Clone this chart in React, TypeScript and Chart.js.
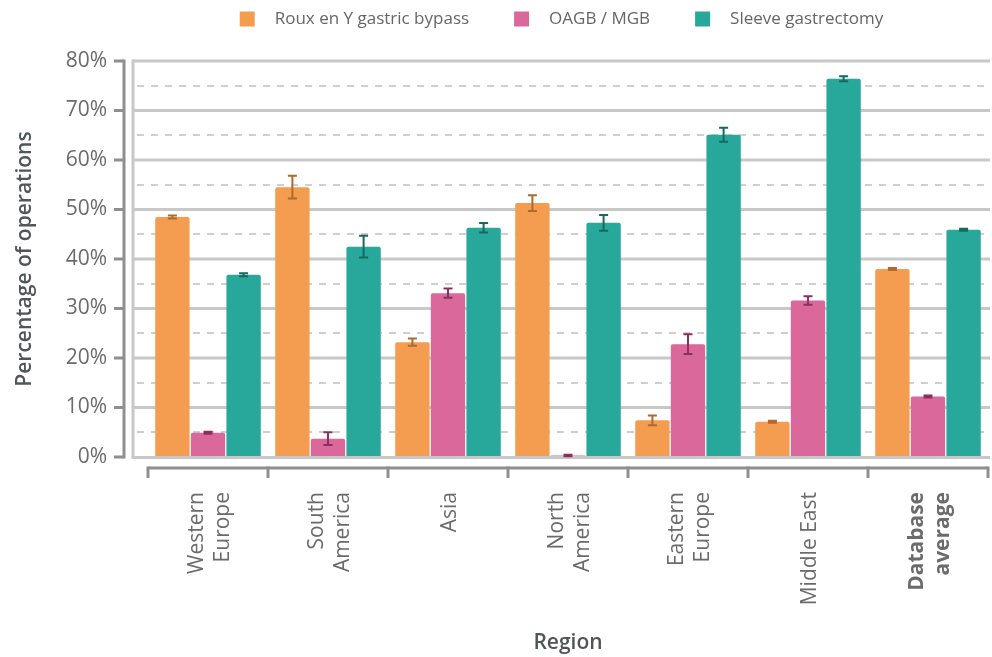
import React, { useEffect, useRef } from "react";
import { Chart, registerables } from "chart.js";

Chart.register(...registerables);

const FONT = "'Open Sans', 'Noto Sans', sans-serif";

// Regions (multi-line tick labels)
const regions: string[][] = [
  ["Western", "Europe"],
  ["South", "America"],
  ["Asia"],
  ["North", "America"],
  ["Eastern", "Europe"],
  ["Middle East"],
  ["Database", "average"],
];
const boldRegion = 6;

const seriesNames = ["Roux en Y gastric bypass", "OAGB / MGB", "Sleeve gastrectomy"];

// Share of operations (%) per region
const rouxEnY = [48.5, 54.5, 23.2, 51.3, 7.4, 7.1, 38.0];
const oagbMgb = [4.9, 3.7, 33.1, 0.3, 22.8, 31.6, 12.2];
const sleeve = [36.8, 42.5, 46.3, 47.3, 65.1, 76.4, 45.9];

// Error (± half-range) per bar
const rouxEnYErr = [0.3, 2.3, 0.75, 1.6, 1.0, 0.2, 0.2];
const oagbMgbErr = [0.2, 1.3, 0.95, 0.15, 2.0, 0.85, 0.2];
const sleeveErr = [0.3, 2.2, 0.95, 1.6, 1.4, 0.5, 0.2];

const yTicks = [0, 10, 20, 30, 40, 50, 60, 70, 80];

const barColors = ["#F49D50", "#DB689B", "#27A89B"];
const errColors = ["#B06A2C", "#8C2F5D", "#17685E"];
const errors = [rouxEnYErr, oagbMgbErr, sleeveErr];

const GRID = "#c8c8c8";
const AXIS = "#8f8f8f";
const TICK_TEXT = "#6b6b6b";

const backgroundPlugin = {
  id: "frameAndGrid",
  beforeDatasetsDraw(chart: any) {
    const { ctx, chartArea, scales } = chart;
    const ys = scales.y;
    const frameLeft = chartArea.left - 15;
    const right = chartArea.right + 2;
    ctx.save();
    // dashed half-step lines
    ctx.strokeStyle = "#cfcfcf";
    ctx.lineWidth = 2;
    ctx.setLineDash([7, 7]);
    for (let v = 5; v < 80; v += 10) {
      const py = Math.round(ys.getPixelForValue(v));
      ctx.beginPath();
      ctx.moveTo(frameLeft + 4, py);
      ctx.lineTo(right, py);
      ctx.stroke();
    }
    ctx.setLineDash([]);
    // solid lines
    ctx.strokeStyle = GRID;
    ctx.lineWidth = 3;
    for (let v = 10; v <= 80; v += 10) {
      const py = ys.getPixelForValue(v);
      ctx.beginPath();
      ctx.moveTo(frameLeft, py);
      ctx.lineTo(right, py);
      ctx.stroke();
    }
    // frame left border
    ctx.beginPath();
    ctx.moveTo(frameLeft, ys.getPixelForValue(80) - 1.5);
    ctx.lineTo(frameLeft, ys.getPixelForValue(0));
    ctx.stroke();

    // separate y axis line with ticks
    const axisX = chartArea.left - 24;
    ctx.strokeStyle = AXIS;
    ctx.lineWidth = 3;
    ctx.beginPath();
    ctx.moveTo(axisX, ys.getPixelForValue(80) - 1.5);
    ctx.lineTo(axisX, ys.getPixelForValue(0) + 1.5);
    ctx.stroke();
    yTicks.forEach((v) => {
      const py = ys.getPixelForValue(v);
      ctx.beginPath();
      ctx.moveTo(axisX - 10, py);
      ctx.lineTo(axisX, py);
      ctx.stroke();
    });

    // separate x axis line with boundary ticks
    const xs = scales.x;
    const step = xs.getPixelForValue(1) - xs.getPixelForValue(0);
    const axisY = chartArea.bottom + 11;
    ctx.beginPath();
    ctx.moveTo(xs.getPixelForValue(0) - step / 2, axisY);
    ctx.lineTo(xs.getPixelForValue(regions.length - 1) + step / 2, axisY);
    ctx.stroke();
    for (let i = 0; i <= regions.length; i++) {
      const px = xs.getPixelForValue(i) - step / 2;
      ctx.beginPath();
      ctx.moveTo(px, axisY - 1.5);
      ctx.lineTo(px, axisY + 10);
      ctx.stroke();
    }
    ctx.restore();
  },
  afterDatasetsDraw(chart: any) {
    const { ctx, chartArea, scales } = chart;
    const ys = scales.y;
    ctx.save();
    // baseline of the frame
    ctx.strokeStyle = GRID;
    ctx.lineWidth = 3;
    ctx.beginPath();
    ctx.moveTo(chartArea.left - 16.5, ys.getPixelForValue(0) + 0.5);
    ctx.lineTo(chartArea.right + 2, ys.getPixelForValue(0) + 0.5);
    ctx.stroke();
    ctx.restore();
  },
};

// Vertical region labels, each block of lines centred on its category
const regionLabelPlugin = {
  id: "regionLabels",
  afterDraw(chart: any) {
    const { ctx, chartArea, scales } = chart;
    const xs = scales.x;
    const lineHeight = 26;
    const top = chartArea.bottom + 35;
    ctx.save();
    ctx.fillStyle = TICK_TEXT;
    ctx.textAlign = "right";
    ctx.textBaseline = "middle";
    regions.forEach((lines, i) => {
      const cx = xs.getPixelForValue(i) + 2;
      ctx.font = `${i === boldRegion ? "bold " : ""}21px ${FONT}`;
      lines.forEach((line, j) => {
        const lx = cx + (j - (lines.length - 1) / 2) * lineHeight;
        ctx.save();
        ctx.translate(lx, top);
        ctx.rotate(-Math.PI / 2);
        ctx.fillText(line, 0, 0);
        ctx.restore();
      });
    });
    ctx.restore();
  },
};

const errorBarPlugin = {
  id: "errorBars",
  afterDatasetsDraw(chart: any) {
    const { ctx, scales } = chart;
    const ys = scales.y;
    ctx.save();
    ctx.lineWidth = 2;
    chart.data.datasets.forEach((ds: any, di: number) => {
      const meta = chart.getDatasetMeta(di);
      ctx.strokeStyle = errColors[di];
      meta.data.forEach((bar: any, i: number) => {
        const v = ds.data[i];
        const e = errors[di][i];
        const top = ys.getPixelForValue(v + e);
        const bot = ys.getPixelForValue(v - e);
        const cx = bar.x;
        ctx.beginPath();
        ctx.moveTo(cx, top);
        ctx.lineTo(cx, bot);
        ctx.moveTo(cx - 4.5, top);
        ctx.lineTo(cx + 4.5, top);
        ctx.moveTo(cx - 4.5, bot);
        ctx.lineTo(cx + 4.5, bot);
        ctx.stroke();
      });
    });
    ctx.restore();
  },
};

const legendPlugin = {
  id: "topLegend",
  afterDraw(chart: any) {
    const { ctx, chartArea } = chart;
    const box = 15;
    const gapText = 20;
    const gapItem = 45;
    ctx.save();
    ctx.font = `17px ${FONT}`;
    const widths = seriesNames.map((s) => ctx.measureText(s).width);
    const total =
      widths.reduce((a, w) => a + box + gapText + w, 0) + gapItem * (seriesNames.length - 1);
    const center = (chartArea.left - 15 + chartArea.right + 2) / 2;
    let x = center - total / 2;
    const cy = 19;
    ctx.textBaseline = "middle";
    ctx.textAlign = "left";
    seriesNames.forEach((s, i) => {
      ctx.fillStyle = barColors[i];
      ctx.fillRect(x, cy - box / 2, box, box);
      ctx.fillStyle = "#666666";
      ctx.fillText(s, x + box + gapText, cy);
      x += box + gapText + widths[i] + gapItem;
    });
    ctx.restore();
  },
};

export default function App() {
  const canvasRef = useRef<HTMLCanvasElement | null>(null);

  useEffect(() => {
    if (!canvasRef.current) return;
    Chart.defaults.font.family = FONT;
    const seriesData = [rouxEnY, oagbMgb, sleeve];
    const chart = new Chart(canvasRef.current, {
      type: "bar",
      data: {
        labels: regions,
        datasets: seriesData.map((d, i) => ({
          label: seriesNames[i],
          data: d,
          backgroundColor: barColors[i],
          borderWidth: 0,
          borderRadius: { topLeft: 2, topRight: 2, bottomLeft: 0, bottomRight: 0 },
          borderSkipped: false,
          categoryPercentage: 0.89,
          barPercentage: 0.965,
        })),
      },
      options: {
        responsive: false,
        animation: false,
        layout: { padding: { top: 61, right: 4, bottom: 0, left: 0 } },
        plugins: {
          legend: { display: false },
          tooltip: { enabled: false },
        },
        scales: {
          x: {
            grid: { display: false, drawTicks: false },
            border: { display: false },
            ticks: { display: false, autoSkip: false },
            title: {
              display: true,
              text: "Region",
              color: "#4f5657",
              font: { family: FONT, size: 21, weight: "600" },
              padding: { top: 0, bottom: 1 },
            },
            afterFit: (s: any) => {
              s.height = 200;
              s.paddingLeft = 0;
              s.paddingRight = 0;
            },
          },
          y: {
            min: 0,
            max: 80,
            grid: { display: false, drawTicks: false },
            border: { display: false },
            ticks: {
              stepSize: 10,
              padding: 41,
              color: TICK_TEXT,
              font: { family: FONT, size: 21 },
              callback: (v: any) => `${v}%`,
            },
            title: {
              display: true,
              text: "Percentage of operations",
              color: "#4f5657",
              font: { family: FONT, size: 21, weight: "600" },
              padding: { top: 12, bottom: 0 },
            },
            afterFit: (s: any) => {
              s.width = 148;
            },
          },
        },
      },
      plugins: [backgroundPlugin, errorBarPlugin, regionLabelPlugin, legendPlugin],
    });
    return () => chart.destroy();
  }, []);

  return (
    <div style={{ position: "absolute", left: 0, top: 0, width: 992, height: 657, background: "#fff" }}>
      <canvas ref={canvasRef} width={992} height={657} style={{ display: "block" }} />
    </div>
  );
}
